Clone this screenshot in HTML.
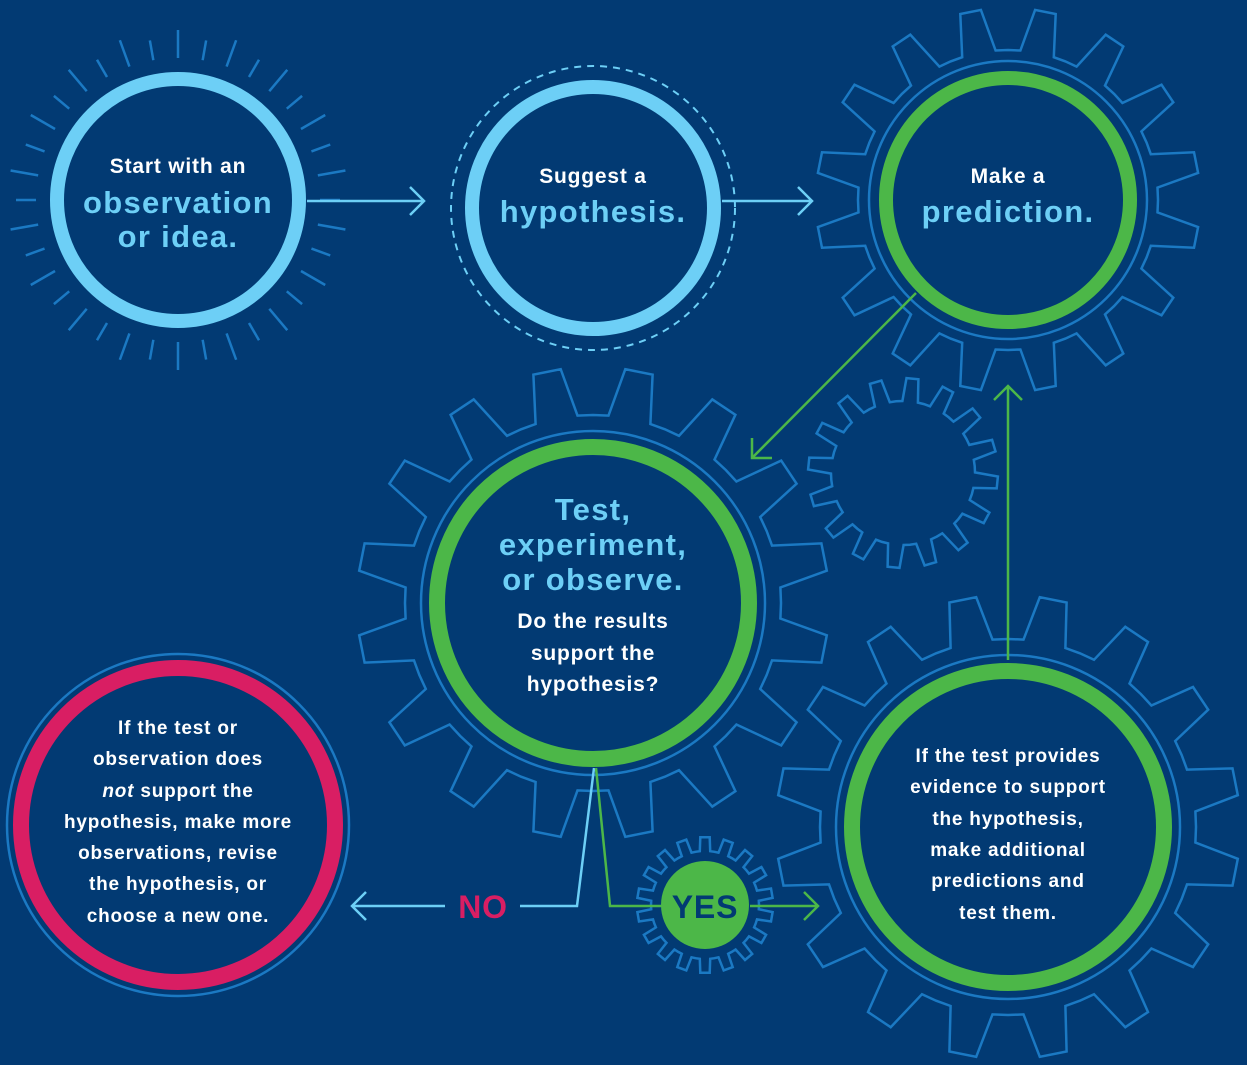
<!DOCTYPE html>
<html><head><meta charset="utf-8"><style>
html,body{margin:0;padding:0;background:#023a73;}
svg{display:block}
text{font-family:"Liberation Sans",sans-serif;font-weight:bold;text-anchor:middle;letter-spacing:0.8px}
.h{font-size:31px;letter-spacing:1.3px}
</style></head><body>
<svg id="s" width="1247" height="1065" viewBox="0 0 1247 1065" xmlns="http://www.w3.org/2000/svg">
<rect width="1247" height="1065" fill="#023a73"/>
<g id="gears" fill="none" stroke="#1b79c3" stroke-width="2.5"></g>
<g id="rays" stroke="#1b79c3" stroke-width="2.5"></g>
<circle cx="178" cy="200" r="121" fill="#023a73" stroke="#6dcff6" stroke-width="14"/>
<circle cx="593" cy="208" r="142" fill="none" stroke="#6dcff6" stroke-width="2" stroke-dasharray="7 6"/>
<circle cx="593" cy="208" r="121" fill="#023a73" stroke="#6dcff6" stroke-width="14"/>
<circle cx="1008" cy="200" r="122" fill="#023a73" stroke="#4cb748" stroke-width="14"/>
<circle cx="593" cy="603" r="156" fill="#023a73" stroke="#4cb748" stroke-width="16"/>
<circle cx="1008" cy="827" r="156" fill="#023a73" stroke="#4cb748" stroke-width="16"/>
<circle cx="178" cy="825" r="171" fill="none" stroke="#1b79c3" stroke-width="2.5"/>
<circle cx="178" cy="825" r="157" fill="#023a73" stroke="#d91e63" stroke-width="16"/>
<circle cx="705" cy="905" r="44" fill="#4cb748"/>
<g fill="none" stroke-width="2.5">
<path d="M307 201H424M410 187L424 201L410 215" stroke="#6dcff6"/>
<path d="M722 201H812M798 187L812 201L798 215" stroke="#6dcff6"/>
<path d="M916 293L752 458M752 438V458H772" stroke="#4cb748"/>
<path d="M1008 660V386M994 400L1008 386L1022 400" stroke="#4cb748"/>
<path d="M594 768L577 906H520M445 906H352M366 892L352 906L366 920" stroke="#6dcff6"/>
<path d="M596 768L610 906H662M750 906H818M804 892L818 906L804 920" stroke="#4cb748"/>
</g>
<text x="178" y="173" fill="#fff" font-size="21">Start with an</text>
<text x="178" y="213" fill="#6dcff6" class="h">observation</text>
<text x="178" y="247" fill="#6dcff6" class="h">or idea.</text>
<text x="593" y="183" fill="#fff" font-size="21">Suggest a</text>
<text x="593" y="222" fill="#6dcff6" class="h">hypothesis.</text>
<text x="1008" y="183" fill="#fff" font-size="21">Make a</text>
<text x="1008" y="222" fill="#6dcff6" class="h">prediction.</text>
<text x="593" y="520" fill="#6dcff6" class="h">Test,</text>
<text x="593" y="555" fill="#6dcff6" class="h">experiment,</text>
<text x="593" y="590" fill="#6dcff6" class="h">or observe.</text>
<g fill="#fff" font-size="21"><text x="593" y="628">Do the results</text><text x="593" y="660">support the</text><text x="593" y="691">hypothesis?</text></g>
<g fill="#fff" font-size="19">
<text x="178" y="734">If the test or</text>
<text x="178" y="765">observation does</text>
<text x="178" y="797"><tspan font-style="italic">not</tspan> support the</text>
<text x="178" y="828">hypothesis, make more</text>
<text x="178" y="859">observations, revise</text>
<text x="178" y="890">the hypothesis, or</text>
<text x="178" y="922">choose a new one.</text>
<text x="1008" y="762">If the test provides</text>
<text x="1008" y="793">evidence to support</text>
<text x="1008" y="825">the hypothesis,</text>
<text x="1008" y="856">make additional</text>
<text x="1008" y="887">predictions and</text>
<text x="1008" y="919">test them.</text>
</g>
<text x="483" y="918" fill="#d91e63" font-size="32">NO</text>
<text x="705" y="918" fill="#023a73" font-size="32">YES</text>
</svg>
<script>
function gear(cx,cy,rRoot,rTip,n,rot,baseFrac,tipFrac){
  var d="",step=2*Math.PI/n;
  for(var i=0;i<n;i++){
    var a=rot+i*step;
    var bh=step*baseFrac/2, th=step*tipFrac/2;
    var pts=[[rRoot,a-step/2],[rRoot,a-bh],[rTip,a-th],[rTip,a+th],[rRoot,a+bh]];
    pts.forEach(function(p,j){
      var x=cx+p[0]*Math.sin(p[1]),y=cy-p[0]*Math.cos(p[1]);
      d+=(i==0&&j==0?"M":"L")+x.toFixed(1)+" "+y.toFixed(1);
    });
  }
  return d+"Z";
}
var g=document.getElementById("gears"),ns="http://www.w3.org/2000/svg";
function add(d){var p=document.createElementNS(ns,"path");p.setAttribute("d",d);g.appendChild(p);}
function ring(cx,cy,r){var c=document.createElementNS(ns,"circle");c.setAttribute("cx",cx);c.setAttribute("cy",cy);c.setAttribute("r",r);g.appendChild(c);}
var h16=Math.PI/16;
add(gear(1008,200,150,192,16,h16,0.58,0.28));ring(1008,200,139);
add(gear(593,603,188,236,16,h16,0.58,0.3));ring(593,603,172);
add(gear(1008,827,188,232,16,h16,0.58,0.3));ring(1008,827,172);
add(gear(903,473,72,95,16,0.1,0.55,0.32));
add(gear(705,905,54,68,18,0,0.55,0.4));
var r=document.getElementById("rays");
for(var i=0;i<36;i++){var a=i*Math.PI/18,r1=142,r2=(i%2?162:170);
 var l=document.createElementNS(ns,"line");
 l.setAttribute("x1",178+r1*Math.sin(a));l.setAttribute("y1",200-r1*Math.cos(a));
 l.setAttribute("x2",178+r2*Math.sin(a));l.setAttribute("y2",200-r2*Math.cos(a));r.appendChild(l);}
</script>
</body></html>
